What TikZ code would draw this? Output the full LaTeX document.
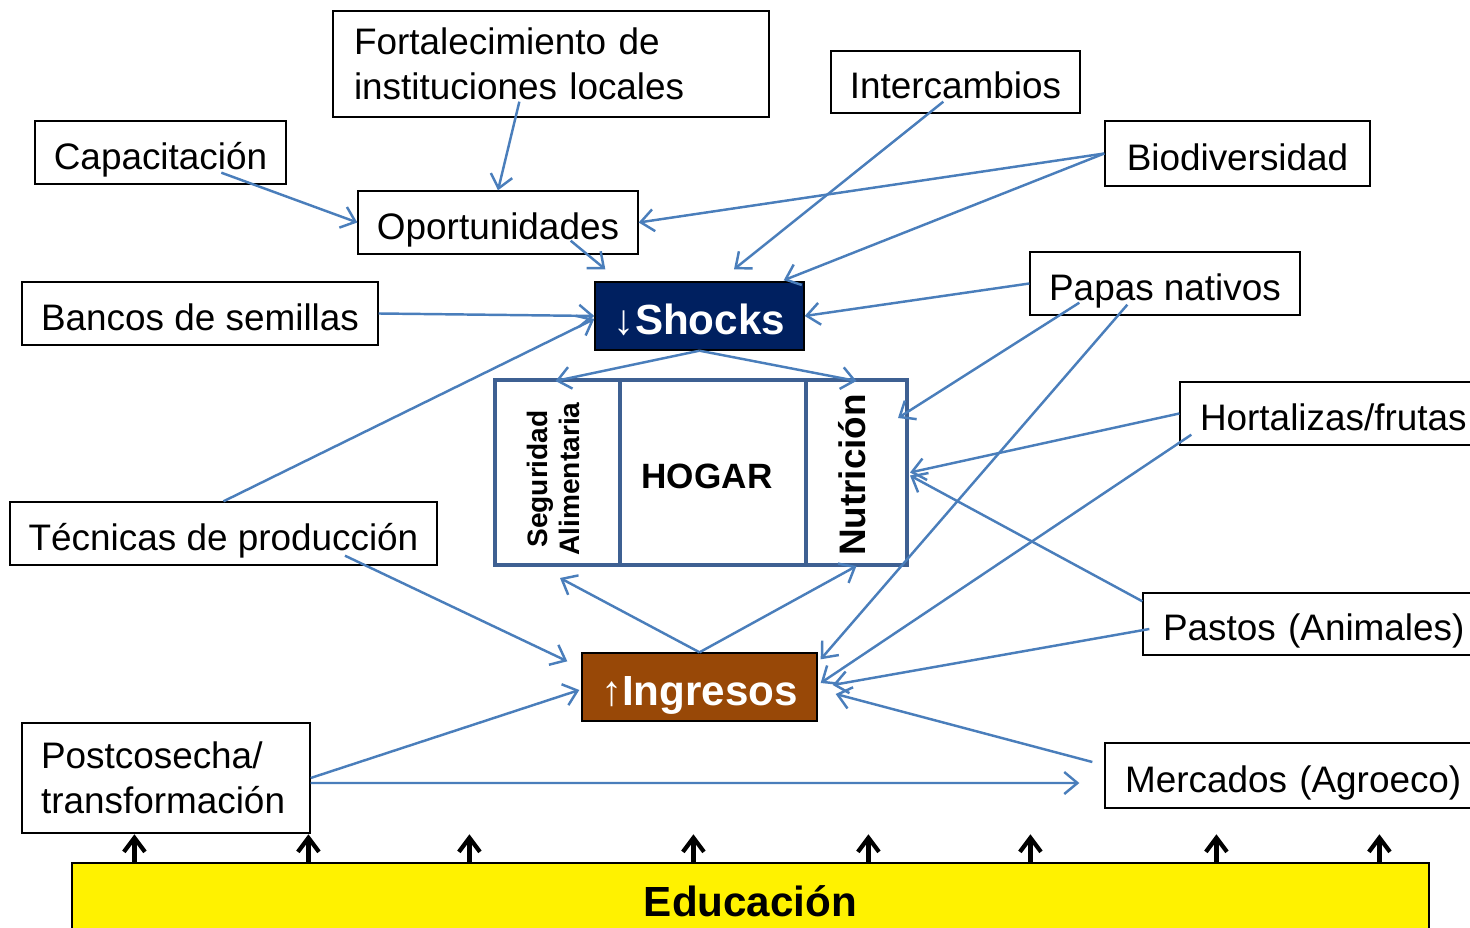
\documentclass[tikz,border=0pt]{standalone}
\usepackage{fontspec}
\setmainfont{Liberation Sans}
\usepackage{graphicx}
\usetikzlibrary{arrows.meta,calc}
\definecolor{conn}{RGB}{74,126,187}
\definecolor{hogc}{RGB}{62,96,146}
\definecolor{navyc}{RGB}{0,32,96}
\definecolor{brownc}{RGB}{152,72,7}
\begin{document}
\begin{tikzpicture}[x=0.02cm,y=-0.02cm,
  box/.style={draw=black, line width=0.8pt, fill=white, inner sep=0pt, font=\fontsize{21}{25.5}\selectfont},
  sbox/.style={box, text height=22pt, text depth=3pt},
  con/.style={draw=conn, line width=1.4pt, -{Straight Barb[length=7.5pt,width=12.5pt]}},
  uparrow/.style={draw=black, line width=2.4pt, -{Straight Barb[length=8pt,width=12pt]}},
  hog/.style={draw=hogc, line width=2.3pt, fill=white, inner sep=0pt, minimum height=3.7cm},
  hogtext/.style={inner sep=0pt, font=\bfseries\fontsize{20}{24}\selectfont},
  key/.style={draw=black, line width=0.8pt, inner sep=0pt, text=white, text height=24pt, text depth=3.4pt, font=\bfseries\fontsize{24}{28}\selectfont}
]
\useasboundingbox (0,0) rectangle (1470,928);
\clip (0,0) rectangle (1470,928);

% boxes
\node[box, minimum width=8.72cm, minimum height=2.12cm, text width=7.88cm, align=left] (fort) at (551,64) {Fortalecimiento de\\instituciones locales};
\node[sbox, minimum width=5.02cm, minimum height=1.26cm] (cap) at (160.5,152.5) {Capacitación};
\node[sbox, minimum width=4.98cm, minimum height=1.24cm] (inter) at (955.5,82) {Intercambios};
\node[sbox, minimum width=5.3cm, minimum height=1.3cm] (bio) at (1237.5,153.5) {Biodiversidad};
\node[sbox, minimum width=5.6cm, minimum height=1.26cm] (oport) at (498,222.5) {Oportunidades};
\node[sbox, minimum width=5.4cm, minimum height=1.26cm] (papas) at (1165,283.5) {Papas nativos};
\node[sbox, minimum width=7.12cm, minimum height=1.26cm] (bancos) at (200,313.5) {Bancos de semillas};
\node[key, fill=navyc, minimum width=4.18cm, minimum height=1.36cm] (shocks) at (699.5,316) {{\mdseries ↓}Shocks};

\node[hog, minimum width=2.5cm] (seg) at (557.5,472.5) {};
\node[hog, minimum width=3.72cm] (hogar) at (713,472.5) {};
\node[hog, minimum width=2.02cm] (nut) at (856.5,472.5) {};
\node[hogtext, rotate=90, align=center, font=\bfseries\fontsize{16}{18.7}\selectfont] (segt) at (553.5,479) {Seguridad\\Alimentaria};
\node[hogtext] (hogt) at (707,476) {HOGAR};
\node[hogtext, rotate=90, font=\bfseries\fontsize{21}{25}\selectfont] (nutt) at (852,475) {Nutrición};

\node[sbox, minimum width=8cm, minimum height=1.26cm, text width=7.2cm, align=left] (hort) at (1380,413.5) {Hortalizas/frutas};
\node[sbox, minimum width=8.54cm, minimum height=1.26cm] (tec) at (223.5,533.5) {Técnicas de producción};
\node[sbox, minimum width=8cm, minimum height=1.24cm, text width=7.2cm, align=left] (pastos) at (1343,624) {Pastos (Animales)};
\node[key, fill=brownc, minimum width=4.7cm, minimum height=1.36cm] (ingresos) at (699.5,687) {{\mdseries ↑}Ingresos};
\node[box, minimum width=5.76cm, minimum height=2.2cm, text width=5cm, align=left] (post) at (166,778) {Postcosecha/\\transformación};
\node[sbox, minimum width=8cm, minimum height=1.3cm, text width=7.2cm, align=left] (merc) at (1305,775.5) {Mercados (Agroeco)};
\node[draw=black, fill=yellow, line width=0.8pt, inner sep=0pt, minimum width=27.14cm, minimum height=1.54cm, font=\bfseries\fontsize{24}{28}\selectfont] (edu) at (750.5,901.5) {Educación};

% connectors
\draw[con] ($(fort.south west)+(187,-16)$) -- (oport.north);
\draw[con] ($(cap.south west)+(187,-12)$) -- (oport.west);
\draw[con] (bio.west) -- (oport.east);
\draw[con] (bio.west) -- ($(shocks.north east)+(-21,-1)$);
\draw[con] ($(inter.south west)+(113,-12)$) -- ($(shocks.north)+(34.5,-12)$);
\draw[con] ($(oport.south east)+(-68,-14)$) -- ($(shocks.north west)+(11,-12)$);
\draw[con] (papas.west) -- (shocks.east);
\draw[con] ($(papas.south west)+(50,-13)$) -- ($(nut.north east)+(-11,40)$);
\draw[con] ($(papas.south west)+(98,-11)$) -- ($(ingresos.north east)+(3,7)$);
\draw[con] (bancos.east) -- (shocks.west);
\draw[con] (tec.north) -- ($(shocks.west)+(0,3)$);
\draw[con] (shocks.south) -- ($(seg.north)+(-2,3)$);
\draw[con] (shocks.south) -- ($(nut.north)+(0,3)$);
\draw[con] (hort.west) -- ($(nut.east)+(1,0)$);
\draw[con] ($(hort.south west)+(12,-11)$) -- ($(ingresos.east)+(3,-4)$);
\draw[con] ($(pastos.north west)+(0,9)$) -- ($(nut.east)+(1,3)$);
\draw[con] ($(pastos.west)+(7,5)$) -- ($(ingresos.east)+(15,-2)$);
\draw[con] ($(tec.south)+(121.5,-10)$) -- ($(ingresos.north west)+(-14,9)$);
\draw[con] (ingresos.north) -- ($(seg.south)+(2.5,11)$);
\draw[con] (ingresos.north) -- ($(nut.south)+(0,-1)$);
\draw[con] (post.east) -- ($(ingresos.west)+(-2,3)$);
\draw[con] ($(post.east)+(0,5)$) -- ($(merc.west)+(-25,7.5)$);
\draw[con] ($(merc.west)+(-12,-13.5)$) -- ($(ingresos.east)+(18,7)$);

% education arrows
\foreach \dx in {63,237,398,622,797,959,1145,1308}
  \draw[uparrow] ($(edu.north west)+(\dx,0)$) -- ++(0,-28);
\end{tikzpicture}
\end{document}
